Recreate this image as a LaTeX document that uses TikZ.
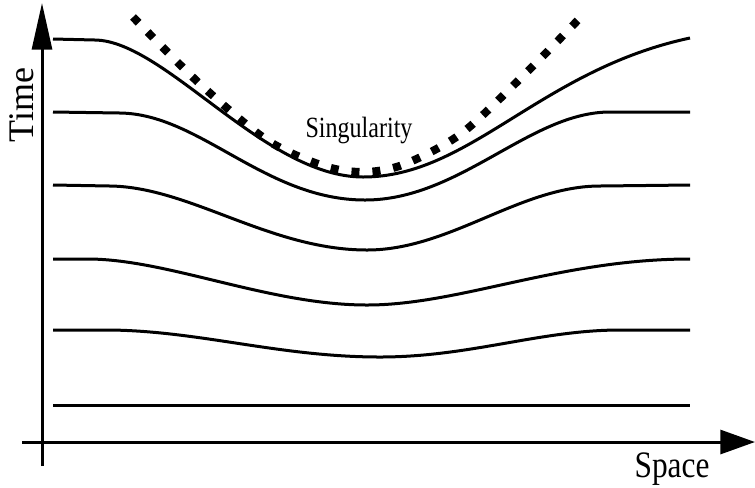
\documentclass[tikz,border=0pt]{standalone}
\usepackage{fontspec}
\setmainfont{Liberation Serif}
\usepackage{tikz}
\usetikzlibrary{arrows.meta}

\begin{document}
\begin{tikzpicture}[
  x=0.75pt,y=-0.75pt,
  slice/.style={line width=2.25pt,line join=round},
  axisline/.style={line width=2.25pt},
  singular/.style={line width=6pt,dash pattern=on 6pt off 9.75pt},
  lbl/.style={inner sep=0pt,anchor=base}
]
\useasboundingbox (0,0) rectangle (755,487);
% axes
\coordinate (tfoot) at (42,466);
\coordinate (ttip) at (42,3);
\coordinate (sfoot) at (22,442);
\coordinate (stip) at (755,442);
\draw[axisline,-{Triangle[length=35pt,width=15pt]}] (tfoot) -- (ttip);
\draw[axisline,-{Triangle[length=26pt,width=18pt]}] (sfoot) -- (stip);
\node[lbl,rotate=90] (time) at (33,105) {\fontsize{27}{27}\selectfont Time};
\node[lbl] (space) at (672,477) {\fontsize{28}{28}\selectfont\scalebox{0.84}[1]{Space}};
% time slices, bottom to top
\draw[slice] (53,405) -- (690,405);
\draw[slice] (53,330) -- (110,330) .. controls (200,331) and (280,357) .. (380,357)
  .. controls (470,357) and (540,330) .. (620,330) -- (690,330);
\draw[slice] (53,259) -- (90,259) .. controls (170,260) and (270,305) .. (367,305)
  .. controls (460,305) and (560,259) .. (690,259);
\draw[slice] (53,185) -- (110,186) .. controls (190,187) and (270,250) .. (367,250)
  .. controls (450,250) and (520,186) .. (600,186) -- (690,185);
\draw[slice] (53,112) -- (120,113) .. controls (200,114) and (265,200) .. (365,200)
  .. controls (460,200) and (530,112) .. (610,112) -- (690,112);
\draw[slice] (53,39) -- (95,40) .. controls (165,41) and (265,177) .. (363,177)
  .. controls (470,177) and (540,70) .. (690,38);
% singularity
\draw[singular] plot[smooth] coordinates {(133,17) (200,84) (267,140) (324,166)
  (365,172) (405,164) (462,133) (527,72) (578,20)};
\node[lbl] (sing) at (359,137) {\fontsize{22}{22}\selectfont\scalebox{0.82}[1]{Singularity}};
\end{tikzpicture}
\end{document}
